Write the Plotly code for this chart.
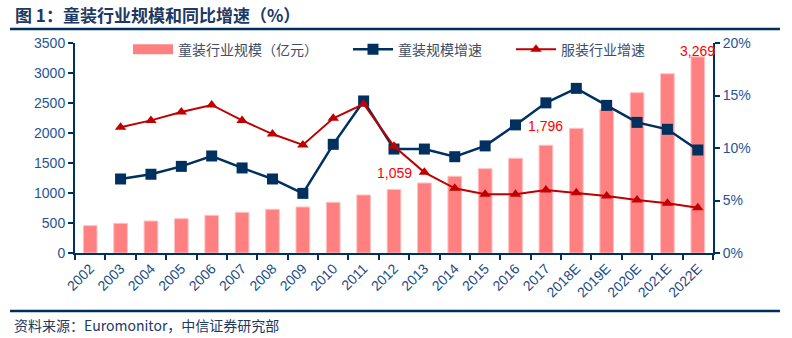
import plotly.graph_objects as go

categories = ["2002","2003","2004","2005","2006","2007","2008","2009","2010","2011",
              "2012","2013","2014","2015","2016","2017","2018E","2019E","2020E","2021E","2022E"]
market_size = [455, 495, 533, 572, 628, 678, 728, 767, 845, 967,
               1059, 1167, 1278, 1405, 1578, 1796, 2078, 2395, 2672, 2988, 3269]
kids_growth = [None, 0.0705, 0.075, 0.0825, 0.0924, 0.081, 0.0705, 0.0568, 0.1035, 0.1448,
               0.099, 0.099, 0.0917, 0.102, 0.122, 0.143, 0.1568, 0.1406, 0.1244, 0.1178, 0.0981]
apparel_growth = [None, 0.1197, 0.1263, 0.1343, 0.141, 0.1263, 0.1133, 0.1029, 0.1283, 0.1419,
                  0.1016, 0.0768, 0.0616, 0.0559, 0.0559, 0.060, 0.0574, 0.0543, 0.0505, 0.0473, 0.0432]
labeled = {"2012": "1,059", "2017": "1,796", "2022E": "3,269"}
label_shift = {"2012": 6, "2017": 9, "2022E": -4}

NAVY = "#00305F"
RED = "#C00000"
BAR = "#FF8080"
TICK = "#1F5597"
FONT = "Liberation Sans, Noto Sans CJK SC, sans-serif"
CJK = "Noto Sans CJK SC, Liberation Sans, sans-serif"

fig = go.Figure()
fig.add_trace(go.Bar(x=categories, y=market_size, name="童装行业规模（亿元）",
                     marker=dict(color=BAR, line=dict(color="#FFC0C0", width=1)),
                     width=0.45, yaxis="y", showlegend=False))
# legend entry for the bars (wide swatch as in the original)
fig.add_trace(go.Scatter(x=[None], y=[None], name="童装行业规模（亿元）", mode="lines",
                         line=dict(color=BAR, width=10), legend="legend"))
fig.add_trace(go.Scatter(x=categories, y=kids_growth, name="童装规模增速", yaxis="y2",
                         mode="lines+markers",
                         line=dict(color=NAVY, width=2.5),
                         marker=dict(symbol="square", size=11, color=NAVY), legend="legend2"))
fig.add_trace(go.Scatter(x=categories, y=apparel_growth, name="服装行业增速", yaxis="y2",
                         mode="lines+markers",
                         line=dict(color=RED, width=2),
                         marker=dict(symbol="triangle-up", size=10, color=RED), legend="legend3"))

for i, (c, v) in enumerate(zip(categories, market_size)):
    if c in labeled:
        fig.add_annotation(x=i, y=v, xref="x", yref="y", text=labeled[c], showarrow=False,
                           yanchor="bottom", yshift=label_shift[c],
                           font=dict(family=FONT, size=14, color="#FF0000"))

leg_font = dict(family=CJK, size=14, color="#404D66")
def leg(px):
    return dict(orientation="h", x=(px - 75) / 638, y=1.045, xanchor="left", yanchor="top",
                font=leg_font, bgcolor="rgba(0,0,0,0)", itemwidth=40)

fig.update_layout(
    width=792, height=338,
    margin=dict(l=75, r=79, t=43, b=85),
    paper_bgcolor="white", plot_bgcolor="white",
    font=dict(family=FONT, color=TICK),
    showlegend=True,
    legend=leg(128), legend2=leg(348), legend3=leg(511),
    xaxis=dict(type="category", tickangle=-45, showline=True, linecolor=NAVY, linewidth=2,
               ticks="outside", tickcolor=NAVY, ticklen=5, tickwidth=1.5, tickson="boundaries",
               tickfont=dict(family=FONT, size=14, color="#1A4A85"), showgrid=False,
               range=[-0.5, 20.5]),
    yaxis=dict(range=[0, 3500], dtick=500, showline=True, linecolor=NAVY, linewidth=2,
               ticks="outside", tickcolor=NAVY, ticklen=5, tickwidth=1.5,
               tickfont=dict(family=FONT, size=14, color=TICK), showgrid=False, zeroline=False),
    yaxis2=dict(range=[0, 0.2], dtick=0.05, tickformat=".0%", overlaying="y", side="right",
                showline=True, linecolor=NAVY, linewidth=2, ticks="outside", tickcolor=NAVY,
                ticklen=5, tickwidth=1.5, tickfont=dict(family=FONT, size=14, color=TICK),
                showgrid=False, zeroline=False),
)

# title and source
fig.add_annotation(x=(13 - 75) / 638, y=(253 - 14) / 210, xref="paper", yref="paper",
                   xanchor="left", yanchor="middle", showarrow=False,
                   text="<b>图 1：童装行业规模和同比增速（%）</b>",
                   font=dict(family=CJK, size=17, color="#203864"))
fig.add_annotation(x=(12 - 75) / 638, y=(253 - 325) / 210, xref="paper", yref="paper",
                   xanchor="left", yanchor="middle", showarrow=False,
                   text="资料来源：Euromonitor，中信证券研究部",
                   font=dict(family=CJK, size=14, color="#203864"))
for py in (29, 311):
    fig.add_shape(type="line", xref="paper", yref="paper",
                  x0=(10 - 75) / 638, x1=(780 - 75) / 638,
                  y0=(253 - py) / 210, y1=(253 - py) / 210,
                  line=dict(color="#002F5F", width=2.5))

fig.write_html("out.html")
